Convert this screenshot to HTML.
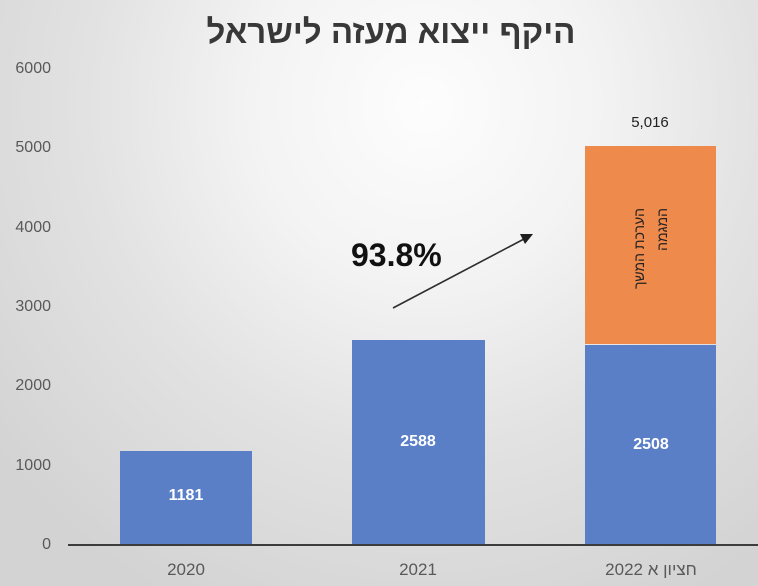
<!DOCTYPE html>
<html><head><meta charset="utf-8">
<style>
html,body{margin:0;padding:0;}
body{width:758px;height:586px;overflow:hidden;position:relative;
background:radial-gradient(ellipse 72% 95% at 56% 18%, #fdfdfd 0%, #f3f3f3 32%, #e2e2e2 62%, #d3d3d3 100%);
font-family:"Liberation Sans","DejaVu Sans",sans-serif;}
.t{position:absolute;white-space:nowrap;}
.yl{position:absolute;left:0;width:51px;text-align:right;font-size:16px;line-height:20px;color:#595959;}
.bar{position:absolute;}
.blue{background:#5a7fc7;}
.orange{background:#ee8b4c;}
.dl{position:absolute;width:132px;text-align:center;color:#fff;font-weight:bold;font-size:16px;line-height:20px;}
.xl{position:absolute;width:200px;text-align:center;font-size:17px;line-height:22px;color:#595959;}
</style></head><body>
<div class="t" style="left:0;width:782px;top:12px;text-align:center;font-size:33px;font-weight:bold;color:#383838;direction:rtl;line-height:40px;">היקף ייצוא מעזה לישראל</div>

<div class="yl" style="top:59px;">6000</div>
<div class="yl" style="top:138px;">5000</div>
<div class="yl" style="top:218px;">4000</div>
<div class="yl" style="top:297px;">3000</div>
<div class="yl" style="top:376px;">2000</div>
<div class="yl" style="top:456px;">1000</div>
<div class="yl" style="top:535px;">0</div>

<div class="bar blue" style="left:120px;top:451px;width:132px;height:94px;"></div>
<div class="bar blue" style="left:352px;top:340px;width:133px;height:205px;"></div>
<div class="bar blue" style="left:585px;top:345px;width:131px;height:200px;"></div>
<div class="bar orange" style="left:585px;top:146px;width:131px;height:198px;"></div>

<div style="position:absolute;left:68px;top:544px;width:690px;height:2px;background:#3c3c3c;"></div>

<div class="dl" style="left:120px;top:486px;">1181</div>
<div class="dl" style="left:352px;top:432px;">2588</div>
<div class="dl" style="left:585px;top:435px;">2508</div>

<div class="t" style="left:600px;top:114px;width:100px;text-align:center;font-size:15px;line-height:18px;color:#222;">5,016</div>

<div class="t" style="left:604px;top:232px;width:94px;height:46px;direction:rtl;text-align:right;font-size:14px;line-height:23px;color:#222;transform:rotate(-90deg);transform-origin:50% 50%;white-space:normal;">הערכת המשך<br>המגמה</div>

<div class="t" style="left:351px;top:237px;font-size:32px;font-weight:bold;color:#111;line-height:36px;">93.8%</div>

<svg style="position:absolute;left:0;top:0;" width="758" height="586">
<line x1="393" y1="308" x2="524" y2="239" stroke="#2e2e2e" stroke-width="1.6"/>
<polygon points="533,234 520,234 525,244" fill="#1e1e1e"/>
</svg>

<div class="xl" style="left:86px;top:559px;">2020</div>
<div class="xl" style="left:318px;top:559px;">2021</div>
<div class="xl" style="left:551px;top:559px;direction:rtl;">חציון א 2022</div>
</body></html>
